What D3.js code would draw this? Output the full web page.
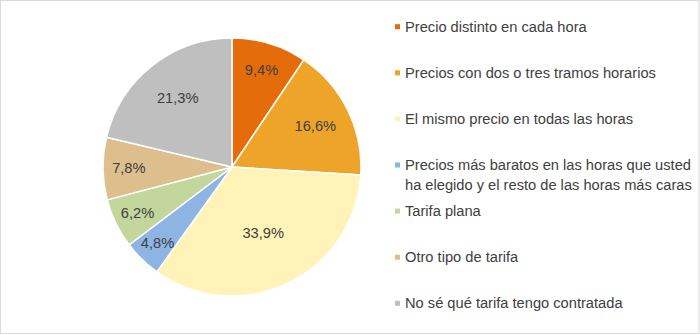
<!DOCTYPE html>
<html><head><meta charset="utf-8">
<script src="https://cdn.jsdelivr.net/npm/d3@7"></script>
<style>body{margin:0;background:#fff}svg{display:block}</style>
</head><body>
<script>
const categories = [
  "Precio distinto en cada hora",
  "Precios con dos o tres tramos horarios",
  "El mismo precio en todas las horas",
  "Precios más baratos en las horas que usted|ha elegido y el resto de las horas más caras",
  "Tarifa plana",
  "Otro tipo de tarifa",
  "No sé qué tarifa tengo contratada"
];
const values = [9.4, 16.6, 33.9, 4.8, 6.2, 7.8, 21.3];
const labels = ["9,4%", "16,6%", "33,9%", "4,8%", "6,2%", "7,8%", "21,3%"];
const colors = ["#E46C0A", "#EDA428", "#FFF3B8", "#8EB4E3", "#C3D69B", "#DDBF8E", "#BFBFBF"];

const W = 700, H = 335;
const svg = d3.select("body").append("svg").attr("width", W).attr("height", H);
svg.append("rect").attr("x", 0.5).attr("y", 0.5).attr("width", W - 1.5).attr("height", H - 2)
  .attr("fill", "#fff").attr("stroke", "#D9D9D9").attr("stroke-width", 1);

const cx = 232, cy = 167, r = 129;
const pie = d3.pie().sort(null).value(d => d)(values);
const arc = d3.arc().innerRadius(0).outerRadius(r);
const g = svg.append("g").attr("transform", `translate(${cx},${cy})`);
g.selectAll("path").data(pie).join("path")
  .attr("d", arc).attr("fill", (d, i) => colors[i])
  .attr("stroke", "#fff").attr("stroke-width", 1.5).attr("stroke-linejoin", "round");

g.selectAll("text").data(pie).join("text")
  .attr("transform", d => {
    const lr = r * (0.87 - d.data / 100 * 0.9);
    const c = d3.arc().innerRadius(lr).outerRadius(lr).centroid(d);
    return `translate(${c[0]},${c[1]})`;
  })
  .attr("text-anchor", "middle").attr("dominant-baseline", "central")
  .attr("font-family", "Liberation Sans, Arial, sans-serif").attr("font-size", 14.67)
  .attr("fill", "#404040").text((d, i) => labels[i]);

const ly = d3.scalePoint().domain(d3.range(categories.length)).range([26.7, 303.3]);
const leg = svg.append("g");
categories.forEach((c, i) => {
  const y = ly(i);
  leg.append("rect").attr("x", 395).attr("y", y - 2.5).attr("width", 5).attr("height", 5).attr("fill", colors[i]);
  const t = leg.append("text").attr("x", 405).attr("y", y)
    .attr("dominant-baseline", "central")
    .attr("font-family", "Liberation Sans, Arial, sans-serif").attr("font-size", 14.67).attr("fill", "#404040");
  c.split("|").forEach((line, j) => {
    t.append("tspan").attr("x", 405).attr("dy", j === 0 ? 0 : 20).text(line);
  });
});
</script>
</body></html>
